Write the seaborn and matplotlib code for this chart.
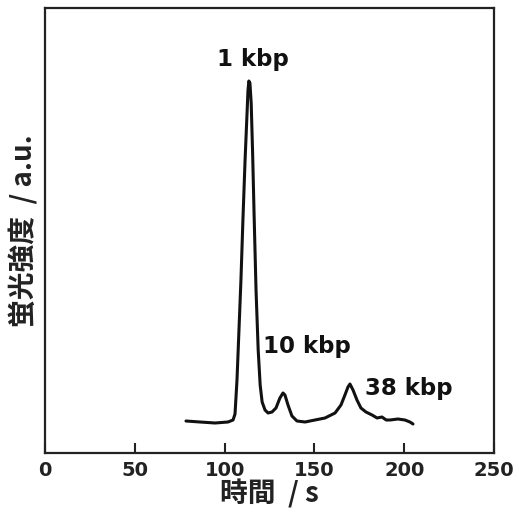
import matplotlib
matplotlib.use("Agg")
import matplotlib.pyplot as plt
import seaborn as sns
import pandas as pd

# time (s) and fluorescence intensity (a.u.)
time_s = [78.5, 86.3, 94.7, 101.9, 104.7, 105.8, 106.9, 108.0, 109.1, 110.2,
          111.4, 112.5, 113.0, 113.5, 114.1, 114.8, 115.6, 116.4, 117.5, 118.7,
          119.8, 120.9, 122.5, 124.2, 126.4, 128.6, 130.8, 132.5, 133.6, 135.3,
          137.5, 140.3, 144.8, 150.3, 155.9, 161.5, 164.8, 167.0, 168.7, 169.8,
          171.5, 173.7, 175.9, 178.7, 182.1, 184.9, 187.6, 190.0, 192.1, 196.5,
          200.4, 203.2, 204.9]
intensity = [32, 31, 30, 31, 33, 39, 73, 123, 173, 233,
             293, 340, 362, 372, 370, 350, 300, 240, 163, 103,
             68, 51, 43, 40, 41, 45, 55, 60, 58, 48,
             37, 32, 31, 33, 35, 40, 48, 58, 66, 69,
             63, 53, 45, 41, 38, 35, 36, 33, 33, 34,
             33, 31, 29]

peak_labels = ["1 kbp", "10 kbp", "38 kbp"]
peak_x = [115.8, 146.0, 202.5]
peak_y = [387, 100, 58]

xticks = [0, 50, 100, 150, 200, 250]

sns.set_style("ticks")
plt.rcParams['font.family'] = ['DejaVu Sans']

df = pd.DataFrame({"t": time_s, "I": intensity})

fig = plt.figure(figsize=(5.19, 5.18), dpi=100)
ax = fig.add_axes([45/519, 1-453/518, (494-45)/519, (453-8)/518])
sns.lineplot(data=df, x="t", y="I", ax=ax, color="#111111", linewidth=2.2)

ax.set_xlim(0, 250)
ax.set_ylim(0, 445)
ax.set_xticks(xticks)
ax.set_xticklabels([str(v) for v in xticks], fontsize=14, fontweight="bold")
ax.set_yticks([])
ax.tick_params(axis="x", direction="in", length=7, width=1.5, pad=6, colors="#222222")
for s in ax.spines.values():
    s.set_visible(True)
    s.set_linewidth(1.6)
    s.set_color("#222222")

for lab, x, y in zip(peak_labels, peak_x, peak_y):
    ax.text(x, y, lab, ha="center", va="baseline", fontsize=16.5,
            fontweight="bold", color="#111111")

cjk = ['Noto Sans CJK JP', 'DejaVu Sans']
ax.set_xlabel("時間  / s", family=cjk, fontsize=20, fontweight="bold",
              color="#222222", labelpad=-1)
ax.set_ylabel("蛍光強度  / a.u.", family=cjk, fontsize=20, fontweight="bold",
              color="#222222", labelpad=5)

fig.savefig("out.png", dpi=100)
